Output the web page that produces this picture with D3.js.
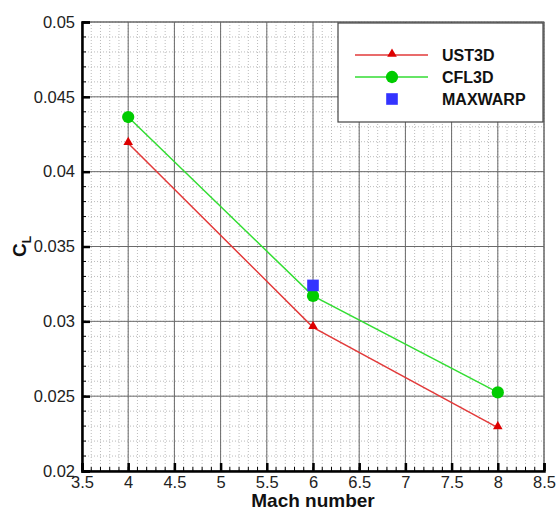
<!DOCTYPE html>
<html><head><meta charset="utf-8">
<script src="https://cdn.jsdelivr.net/npm/d3@7"></script>
<style>body{margin:0;background:#fff}text{font-family:"Liberation Sans",Arial,sans-serif}</style>
</head><body><div id="chart"></div>
<script>
// Lift coefficient versus Mach number for three solvers
const machUST3D = [4, 6, 8];
const clUST3D = [0.0419, 0.0296, 0.0229];
const machCFL3D = [4, 6, 8];
const clCFL3D = [0.04365, 0.0317, 0.02525];
const machMAXWARP = [6];
const clMAXWARP = [0.0324];
const xTicks = [3.5, 4, 4.5, 5, 5.5, 6, 6.5, 7, 7.5, 8, 8.5];
const yTicks = [0.02, 0.025, 0.03, 0.035, 0.04, 0.045, 0.05];
const seriesNames = ["UST3D", "CFL3D", "MAXWARP"];

const W = 559, H = 512;
const L = 82, R = 544, T = 22, B = 471;
const svg = d3.select("#chart").append("svg").attr("width", W).attr("height", H);
const x = d3.scaleLinear().domain([3.5, 8.5]).range([L, R]);
const y = d3.scaleLinear().domain([0.02, 0.05]).range([B, T]);

const xMinor = d3.range(35, 86).map(v => v / 10);
const yMinor = d3.range(20, 51).map(v => v / 1000);

// minor grid (dotted)
const g = svg.append("g");
g.selectAll(".mx").data(xMinor).join("line")
  .attr("x1", d => x(d)).attr("x2", d => x(d)).attr("y1", T).attr("y2", B)
  .attr("stroke", "#bbb").attr("stroke-width", 1).attr("stroke-dasharray", "1,2");
g.selectAll(".my").data(yMinor).join("line")
  .attr("y1", d => y(d)).attr("y2", d => y(d)).attr("x1", L).attr("x2", R)
  .attr("stroke", "#bbb").attr("stroke-width", 1).attr("stroke-dasharray", "1,2");
// major grid
g.selectAll(".Mx").data(xTicks).join("line")
  .attr("x1", d => x(d)).attr("x2", d => x(d)).attr("y1", T).attr("y2", B)
  .attr("stroke", "#6a6a6a").attr("stroke-width", 1);
g.selectAll(".My").data(yTicks).join("line")
  .attr("y1", d => y(d)).attr("y2", d => y(d)).attr("x1", L).attr("x2", R)
  .attr("stroke", "#6a6a6a").attr("stroke-width", 1);

// frame
svg.append("rect").attr("x", L).attr("y", T).attr("width", R - L).attr("height", B - T)
  .attr("fill", "none").attr("stroke", "#666").attr("stroke-width", 1);

// axes with inward ticks
const xAxis = d3.axisBottom(x).tickValues(xTicks).tickSize(-8).tickPadding(5).tickFormat(d3.format("~g"));
const xa = svg.append("g").attr("transform", `translate(0,${B})`).call(xAxis);
const yAxis = d3.axisLeft(y).tickValues(yTicks).tickSize(-8).tickPadding(7).tickFormat(d3.format("~g"));
const ya = svg.append("g").attr("transform", `translate(${L},0)`).call(yAxis);
[xa, ya].forEach(a => {
  a.select(".domain").attr("stroke", "#000").attr("stroke-width", 2.5);
  a.selectAll(".tick line").attr("stroke", "#000").attr("stroke-width", 2.5);
  a.selectAll(".tick text").attr("font-size", 16.5).attr("fill", "#222")
    .attr("font-family", "'Liberation Sans',Arial,sans-serif");
});
xa.selectAll(".tick text").attr("y", 5).attr("dy", "0.71em");
// minor ticks
svg.append("g").selectAll("line").data(xMinor).join("line")
  .attr("x1", d => x(d)).attr("x2", d => x(d)).attr("y1", B).attr("y2", B - 4)
  .attr("stroke", "#000").attr("stroke-width", 1);
svg.append("g").selectAll("line").data(yMinor).join("line")
  .attr("y1", d => y(d)).attr("y2", d => y(d)).attr("x1", L).attr("x2", L + 4)
  .attr("stroke", "#000").attr("stroke-width", 1);

// axis titles
svg.append("text").attr("x", (L + R) / 2).attr("y", 507).attr("text-anchor", "middle")
  .attr("font-size", 19).attr("font-weight", "bold").attr("fill", "#111").text("Mach number");
const yt = svg.append("text").attr("transform", `translate(26,${(T + B) / 2}) rotate(-90)`)
  .attr("text-anchor", "middle").attr("font-size", 19).attr("font-weight", "bold").attr("fill", "#111");
yt.append("tspan").text("C");
yt.append("tspan").attr("font-size", 12).attr("dy", 5).text("L");

// series
const line = d3.line().x(d => x(d[0])).y(d => y(d[1]));
const ust = d3.zip(machUST3D, clUST3D);
const cfl = d3.zip(machCFL3D, clCFL3D);
const mx = d3.zip(machMAXWARP, clMAXWARP);
svg.append("path").datum(ust).attr("d", line).attr("fill", "none").attr("stroke", "#e23a3a").attr("stroke-width", 1.5);
svg.append("path").datum(cfl).attr("d", line).attr("fill", "none").attr("stroke", "#33dd33").attr("stroke-width", 1.5);
const tri = d3.symbol().type(d3.symbolTriangle).size(40);
const circ = d3.symbol().type(d3.symbolCircle).size(118);
const sq = d3.symbol().type(d3.symbolSquare).size(135);
svg.append("g").selectAll("path").data(ust).join("path").attr("d", tri)
  .attr("transform", d => `translate(${x(d[0])},${y(d[1]) - 1})`).attr("fill", "#dd0000");
svg.append("g").selectAll("path").data(cfl).join("path").attr("d", circ)
  .attr("transform", d => `translate(${x(d[0])},${y(d[1])})`).attr("fill", "#00cc00");
svg.append("g").selectAll("path").data(mx).join("path").attr("d", sq)
  .attr("transform", d => `translate(${x(d[0])},${y(d[1])})`).attr("fill", "#3333ff");

// legend
const lg = svg.append("g");
lg.append("rect").attr("x", 338).attr("y", T + 1).attr("width", R - 338 - 1).attr("height", 99)
  .attr("fill", "#fff").attr("stroke", "#444").attr("stroke-width", 1.2);
const rows = [
  { name: seriesNames[0], color: "#e23a3a", mark: "#dd0000", sym: tri, line: true, dy: -1 },
  { name: seriesNames[1], color: "#33dd33", mark: "#00cc00", sym: circ, line: true, dy: 0 },
  { name: seriesNames[2], color: null, mark: "#3333ff", sym: sq, line: false, dy: 0 }
];
rows.forEach((r, i) => {
  const yy = 55 + i * 22;
  if (r.line) lg.append("line").attr("x1", 355).attr("x2", 428).attr("y1", yy).attr("y2", yy)
    .attr("stroke", r.color).attr("stroke-width", 1.5);
  lg.append("path").attr("d", r.sym).attr("transform", `translate(392,${yy + r.dy})`).attr("fill", r.mark);
  lg.append("text").attr("x", 442).attr("y", yy + 6).attr("font-size", 16).attr("font-weight", "bold")
    .attr("fill", "#111").text(r.name);
});
</script></body></html>
